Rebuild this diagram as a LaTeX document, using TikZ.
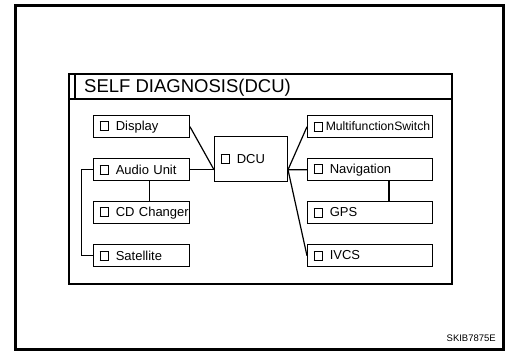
\documentclass[tikz,border=0pt]{standalone}
\usepackage{fontspec}
\setmainfont{Liberation Sans}
\newcommand{\chkbox}{{\fboxsep=0pt\fboxrule=0.9pt\fbox{\makebox[8pt]{\rule{0pt}{8pt}}}}}
\newcommand{\lbl}[2][6.5pt]{\mbox{\chkbox\hspace{#1}#2}}
\begin{document}
\begin{tikzpicture}[x=1pt,y=-1pt,
  lbox/.style={draw, line width=1pt, anchor=north west, minimum height=22.5pt,
    inner xsep=6pt, inner ysep=0pt, align=left, font=\fontsize{13}{14}\selectfont},
  lefts/.style={lbox, text width=84pt},
  rights/.style={lbox, text width=113pt},
  conn/.style={line width=1.2pt}]
\useasboundingbox (0,0) rectangle (507,352);
\draw[line width=3pt] (15.5,5.5) rectangle (503.5,349.5);
\draw[line width=1.2pt] (69,74) rectangle (452,284);
\draw[line width=1.2pt] (69,99) -- (452,99);
\draw[line width=1.2pt] (75,74) -- (75,99);
\node[anchor=base west, inner sep=0pt, font=\fontsize{18.5}{20}\selectfont] (title) at (84,93) {SELF DIAGNOSIS(DCU)};

\node[lefts] (disp) at (93,115) {\lbl{Display}};
\node[lefts] (audio) at (93,158) {\lbl{Audio Unit}};
\node[lefts] (cd) at (93,201) {\lbl{CD Changer}};
\node[lefts] (sat) at (93,244) {\lbl{Satellite}};

\node[lbox, text width=61pt, minimum height=45pt] (dcu) at (214,136) {\lbl{DCU}};

\node[rights] (multi) at (307,115) {\lbl[2.5pt]{{\fontsize{12.2}{14}\selectfont MultifunctionSwitch}}};
\node[rights] (nav) at (307,158) {\lbl{Navigation}};
\node[rights] (gps) at (307,201) {\lbl{GPS}};
\node[rights] (ivcs) at (307,244) {\lbl{IVCS}};

\coordinate (dl) at (dcu.west |- audio.east);
\coordinate (dr) at (dcu.east |- nav.west);
\draw[conn] (disp.east) -- (dl);
\draw[conn] (audio.east) -- (dl);
\draw[conn] (multi.west) -- (dr) -- (nav.west);
\draw[conn] (dr) -- (ivcs.west);
\draw[conn] ([xshift=8pt]audio.south) -- ([xshift=8pt]cd.north);
\draw[conn] ([xshift=19pt]nav.south) -- ([xshift=19pt]gps.north);
\draw[conn] (audio.west) -- ++(-11.3,0) |- (sat.west);

\node[anchor=base east, inner sep=0pt, font=\fontsize{9.5}{11}\selectfont] (code) at (496,342) {SKIB7875E};
\end{tikzpicture}
\end{document}
